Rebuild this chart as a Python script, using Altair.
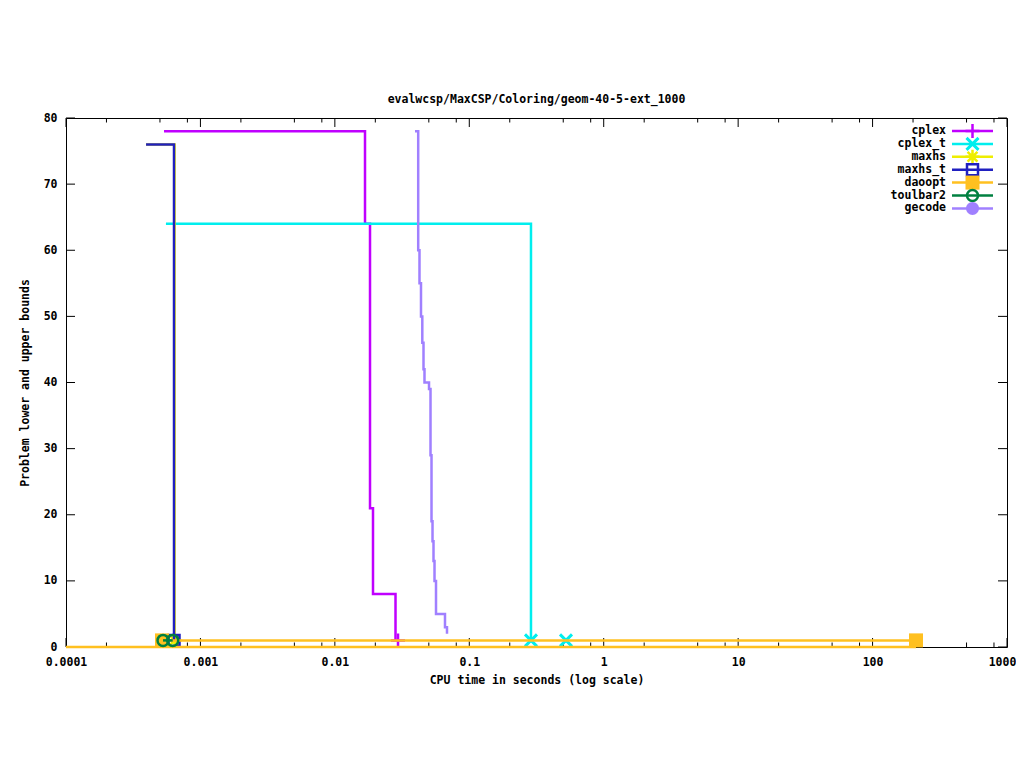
import altair as alt
import pandas as pd

TITLE = "evalwcsp/MaxCSP/Coloring/geom-40-5-ext_1000"
X_TITLE = "CPU time in seconds (log scale)"
Y_TITLE = "Problem lower and upper bounds"

names = ["cplex", "cplex_t", "maxhs", "maxhs_t", "daoopt", "toulbar2", "gecode"]
colors = ["#c000ff", "#00eeee", "#eeee00", "#2020c0", "#ffc020", "#008040", "#a080ff"]

# ---- series (time in s, bound value) ----
cplex_time = [0.000536, 0.01676, 0.01826, 0.01922, 0.02826]
cplex_val = [78, 64, 21, 8, 1]
cplex_mk_time = [0.0295]
cplex_mk_val = [1]

cplext_time = [0.000554, 0.2877]
cplext_val = [64, 1]
cplext_mk_time = [0.2877, 0.5241]
cplext_mk_val = [1, 1]

maxhs_time = [0.000394, 0.000642]
maxhs_val = [76, 1]
maxhs_mk_time = [0.000642]
maxhs_mk_val = [1]

maxhst_time = [0.000394, 0.000636]
maxhst_val = [76, 1]
maxhst_mk_time = [0.000636]
maxhst_mk_val = [1]

daoopt_time = [0.000518, 210.4]
daoopt_val = [1, 1]
daoopt_lb_time = [0.0001, 210.4]
daoopt_lb_val = [0, 0]
daoopt_mk_time = [0.000518, 210.4]
daoopt_mk_val = [1, 1]

toulbar2_time = [0.000527, 0.000622]
toulbar2_val = [1, 1]
toulbar2_mk_time = [0.000527, 0.000622]
toulbar2_mk_val = [1, 1]

gecode_time = [0.03945, 0.04169, 0.04262, 0.04373, 0.04472, 0.04565, 0.04643,
               0.05017, 0.05147, 0.05236, 0.05327, 0.05418, 0.05512, 0.05655,
               0.06596, 0.06826]
gecode_val = [78, 60, 55, 50, 46, 42, 40, 39, 29, 19, 16, 13, 10, 5, 3, 2]

# ---- axis ticks ----
x_major = [0.0001, 0.001, 0.01, 0.1, 1, 10, 100, 1000]
x_minor = [d * m for d in x_major[:-1] for m in (2, 5, 8)]
y_major = [0, 10, 20, 30, 40, 50, 60, 70, 80]

W, H = 941, 529
FONT = "DejaVu Sans Mono"
FS = 11.5
LW = 2.5

xscale = alt.Scale(type="log", domain=[0.0001, 1000])
yscale = alt.Scale(domain=[0, 80])
xaxis = alt.Axis(values=x_major, format="~g", ticks=False, domain=False, grid=False,
                 labelPadding=9, labelFlush=False, labelOverlap=False,
                 labelOffset={"condition": {"test": "datum.value >= 1000", "value": -5},
                              "value": 0},
                 title=X_TITLE, titlePadding=7)
yaxis = alt.Axis(values=y_major, ticks=False, domain=False, grid=False,
                 labelPadding=9, title=Y_TITLE, titlePadding=13)


def X():
    return alt.X("t:Q", scale=xscale, axis=xaxis)


def Y():
    return alt.Y("v:Q", scale=yscale, axis=yaxis)


def df(ts, vs):
    return pd.DataFrame({"t": ts, "v": vs})


layers = []


# tick marks (inward, mirrored)
def xticks(vals, length):
    d = pd.DataFrame({"t": vals})
    bot = alt.Chart(d).mark_rule(color="black", strokeWidth=1).encode(
        x=X(), y=alt.value(H), y2=alt.value(H - length))
    top = alt.Chart(d).mark_rule(color="black", strokeWidth=1).encode(
        x=X(), y=alt.value(0), y2=alt.value(length))
    return [bot, top]


layers += xticks(x_major, 9)
layers += xticks(x_minor, 4.5)
yd = pd.DataFrame({"v": y_major})
layers.append(alt.Chart(yd).mark_rule(color="black", strokeWidth=1).encode(
    y=Y(), x=alt.value(0), x2=alt.value(9)))
layers.append(alt.Chart(yd).mark_rule(color="black", strokeWidth=1).encode(
    y=Y(), x=alt.value(W), x2=alt.value(W - 9)))

cross = "M-1,0L1,0M0,-1L0,1"
xshape = "M-1,-1L1,1M-1,1L1,-1"
star = "M-1,0L1,0M0,-1L0,1M-0.7,-0.7L0.7,0.7M-0.7,0.7L0.7,-0.7"

markers = {
    "cplex": dict(shape=cross, filled=False, size=196, strokeWidth=2.5),
    "cplex_t": dict(shape=xshape, filled=False, size=144, strokeWidth=3),
    "maxhs": dict(shape=star, filled=False, size=196, strokeWidth=2.5),
    "maxhs_t": dict(shape="square", filled=False, size=121, strokeWidth=2.5),
    "daoopt": dict(shape="square", filled=True, size=196, strokeWidth=0),
    "toulbar2": dict(shape="circle", filled=False, size=121, strokeWidth=2.5),
    "gecode": dict(shape="circle", filled=True, size=169, strokeWidth=0),
}

series = {
    "cplex": ([(cplex_time, cplex_val)], (cplex_mk_time, cplex_mk_val)),
    "cplex_t": ([(cplext_time, cplext_val)], (cplext_mk_time, cplext_mk_val)),
    "maxhs": ([(maxhs_time, maxhs_val)], (maxhs_mk_time, maxhs_mk_val)),
    "maxhs_t": ([(maxhst_time, maxhst_val)], (maxhst_mk_time, maxhst_mk_val)),
    "daoopt": ([(daoopt_time, daoopt_val), (daoopt_lb_time, daoopt_lb_val)],
               (daoopt_mk_time, daoopt_mk_val)),
    "toulbar2": ([(toulbar2_time, toulbar2_val)], (toulbar2_mk_time, toulbar2_mk_val)),
    "gecode": ([(gecode_time, gecode_val)], None),
}

for name, color in zip(names, colors):
    lines, mk = series[name]
    for ts, vs in lines:
        layers.append(alt.Chart(df(ts, vs)).mark_line(
            interpolate="step-after", color=color, strokeWidth=LW).encode(x=X(), y=Y()))
    if mk is not None:
        m = markers[name]
        layers.append(alt.Chart(df(*mk)).mark_point(
            color=color, opacity=1, **m).encode(x=X(), y=Y()))

# legend (gnuplot style: label, then line sample with point)
for i, (name, color) in enumerate(zip(names, colors)):
    yy = 13 + 12.9 * i
    ld = pd.DataFrame({"name": [name]})
    layers.append(alt.Chart(ld).mark_text(
        align="right", baseline="middle", font=FONT, fontSize=FS, fontWeight="bold",
        color="black").encode(text="name:N", x=alt.value(880), y=alt.value(yy)))
    layers.append(alt.Chart(ld).mark_rule(color=color, strokeWidth=LW).encode(
        x=alt.value(886), x2=alt.value(927), y=alt.value(yy)))
    m = markers[name]
    layers.append(alt.Chart(ld).mark_point(color=color, opacity=1, **m).encode(
        x=alt.value(906.5), y=alt.value(yy)))

chart = alt.layer(*layers).properties(
    width=W, height=H,
    title=alt.TitleParams(TITLE, font=FONT, fontSize=FS, fontWeight="bold",
                          color="black", anchor="middle", offset=7, frame="group"),
    autosize=alt.AutoSizeParams(type="none"),
    padding={"left": 58, "top": 110, "right": 9, "bottom": 100},
).configure(background="white").configure_view(
    stroke="black", strokeWidth=1
).configure_axis(
    labelFont=FONT, labelFontSize=FS, labelFontWeight="bold", labelColor="black",
    titleFont=FONT, titleFontSize=FS, titleFontWeight="bold", titleColor="black",
)

chart.save("out.html", embed_options={"renderer": "svg", "actions": False})
